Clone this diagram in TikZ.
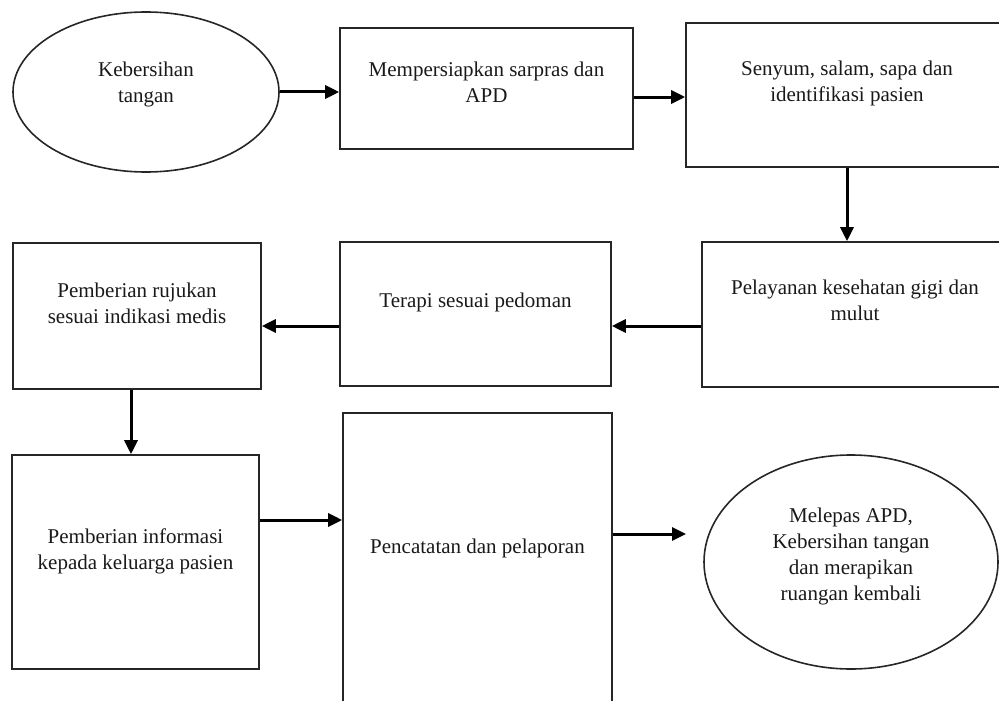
\documentclass[tikz,border=0pt]{standalone}
\usepackage{fontspec}
\setmainfont{Liberation Serif}
\usetikzlibrary{arrows.meta,shapes.geometric}
\newcommand{\toptext}[4]{\parbox[c][#2][t]{#1}{\centering\vspace*{#3}#4}}
\tikzset{
  stepbox/.style={draw=black!85, line width=1.6pt, inner sep=0pt, text=black!90,
    font=\fontsize{21}{26}\selectfont},
  endoval/.style={stepbox, ellipse},
  arr/.style={line width=3pt, -{Triangle[length=14pt,width=13pt]}}
}
\begin{document}
\begin{tikzpicture}[x=1pt,y=-1pt]
\useasboundingbox (0,0) rectangle (999,701);
\clip (0,0) rectangle (999,701);
% Draw the steps
        \node[endoval, minimum width=266pt, minimum height=160pt] (cuci) at (146,92)
          {\toptext{150pt}{100pt}{20pt}{Kebersihan\\tangan}};
        \node[stepbox] (sarpras) at (486.5,88.5)
          {\toptext{293pt}{121pt}{34pt}{Mempersiapkan sarpras dan\\APD}};
        \node[stepbox] (senyum) at (847,95)
          {\toptext{322pt}{144pt}{38pt}{Senyum, salam, sapa dan\\identifikasi pasien}};
        \node[stepbox] (pelayanan) at (855,314.5)
          {\toptext{306pt}{145pt}{38pt}{Pelayanan kesehatan gigi dan\\mulut}};
        \node[stepbox] (terapi) at (475.5,314)
          {\toptext{271pt}{144pt}{51pt}{Terapi sesuai pedoman}};
        \node[stepbox] (rujukan) at (137,316)
          {\toptext{248pt}{146pt}{40pt}{Pemberian rujukan\\sesuai indikasi medis}};
        \node[stepbox] (informasi) at (135.5,562)
          {\toptext{247pt}{214pt}{74pt}{Pemberian informasi\\kepada keluarga pasien}};
        \node[stepbox] (pencatatan) at (477.5,566.5)
          {\toptext{269pt}{307pt}{126pt}{Pencatatan dan pelaporan}};
        \node[endoval, minimum width=294pt, minimum height=214pt] (selesai) at (851,562)
          {\toptext{200pt}{140pt}{16pt}{Melepas APD,\\Kebersihan tangan\\dan merapikan\\ruangan kembali}};
% Draw arrows
        \coordinate (ujung) at (686,534);
        \draw[arr] (cuci.east) -- (cuci.east -| sarpras.west);
        \draw[arr] ([yshift=-8.5pt]sarpras.east) -- ([yshift=-8.5pt]sarpras.east -| senyum.west);
        \draw[arr] (senyum.south) -- (senyum.south |- pelayanan.north);
        \draw[arr] ([yshift=-11.5pt]pelayanan.west) -- ([yshift=-11.5pt]pelayanan.west -| terapi.east);
        \draw[arr] ([yshift=-12pt]terapi.west) -- ([yshift=-12pt]terapi.west -| rujukan.east);
        \draw[arr] ([xshift=-6pt]rujukan.south) -- ([xshift=-6pt]rujukan.south |- informasi.north);
        \draw[arr] ([yshift=42pt]informasi.east) -- ([yshift=42pt]informasi.east -| pencatatan.west);
        \draw[arr] (pencatatan.east |- ujung) -- (ujung);
      \end{tikzpicture}
\end{document}
